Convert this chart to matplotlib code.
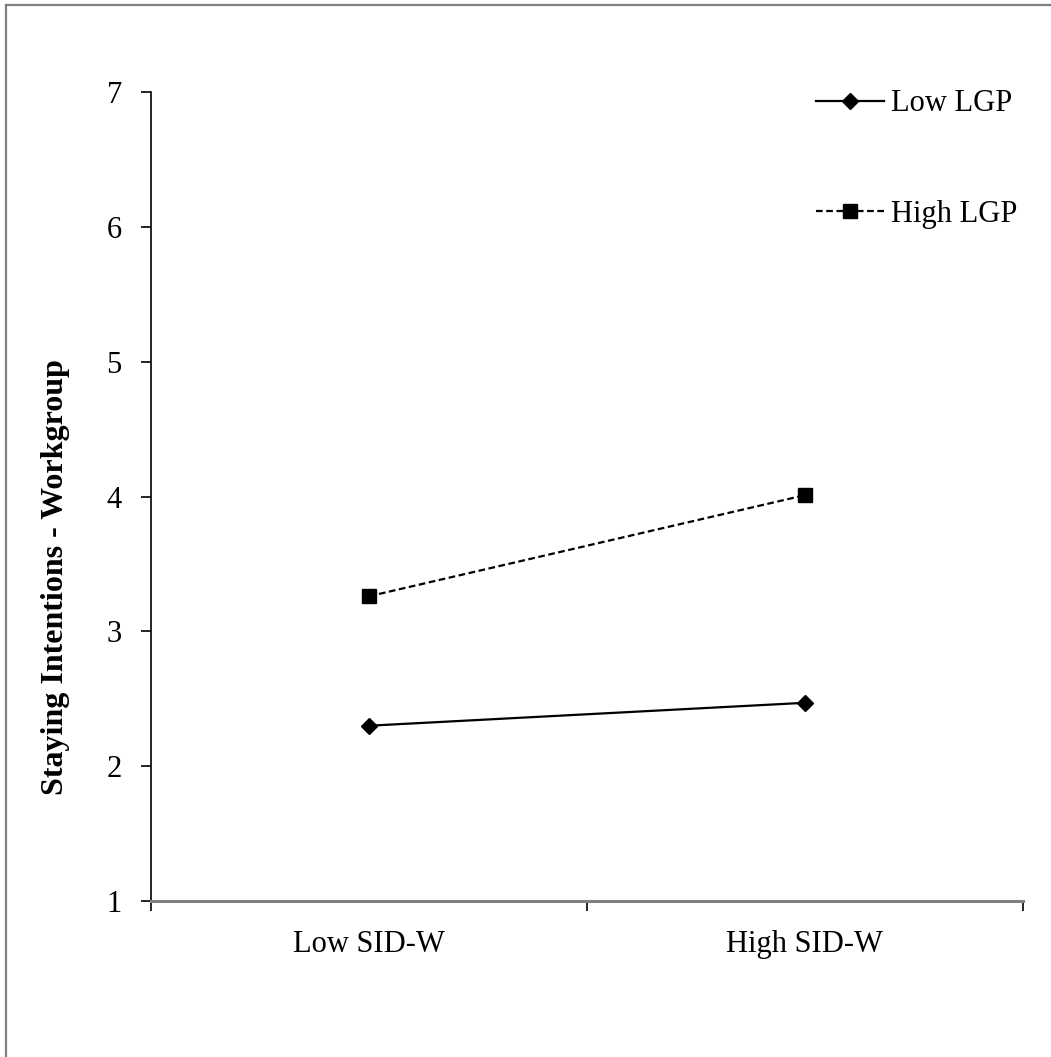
import matplotlib.pyplot as plt
from matplotlib.lines import Line2D

categories = ["Low SID-W", "High SID-W"]
low_lgp = [2.30, 2.47]
high_lgp = [3.26, 4.01]
series_labels = ["Low LGP", "High LGP"]
y_ticks = [1, 2, 3, 4, 5, 6, 7]

plt.rcParams["font.family"] = ["Liberation Serif", "DejaVu Serif"]

W, H = 1051, 1057
fig = plt.figure(figsize=(W / 100, H / 100), dpi=100)
ax = fig.add_axes([151 / W, 1 - 901 / H, 872 / W, 809 / H])

# page border (only top and left are visible in the reference)
fig.add_artist(Line2D([6 / W, 6 / W], [0, 1 - 5 / H], color="#808080", lw=1.6,
                      transform=fig.transFigure))
fig.add_artist(Line2D([6 / W, 1], [1 - 5 / H, 1 - 5 / H], color="#808080", lw=1.6,
                      transform=fig.transFigure))

x = list(range(len(categories)))
ax.plot(x, low_lgp, color="black", lw=1.6, marker="D", markersize=8.5,
        label=series_labels[0])
ax.plot(x, high_lgp, color="black", lw=1.6, ls=(0, (3, 1.6)), marker="s",
        markersize=10.5, label=series_labels[1])

ax.set_xlim(-0.5, 1.5)
ax.set_ylim(1, 7)
ax.set_yticks(y_ticks)
ax.set_xticks([-0.5, 0.5, 1.5], minor=False)
ax.set_xticklabels([])
ax.set_xticks(x, minor=True)
ax.set_xticklabels(categories, minor=True)

for side in ("top", "right"):
    ax.spines[side].set_visible(False)
ax.spines["left"].set_linewidth(1.2)
ax.spines["bottom"].set_color("#808080")
ax.spines["bottom"].set_linewidth(2.2)

ax.tick_params(axis="y", direction="out", length=7, width=1.2, pad=14,
               labelsize=22)
ax.tick_params(axis="x", which="major", direction="out", length=7, width=1.2,
               color="black")
ax.tick_params(axis="x", which="minor", length=0, pad=21, labelsize=22)

ax.set_ylabel("Staying Intentions - Workgroup", fontsize=23, fontweight="bold")
ax.yaxis.set_label_coords(-0.093, 0.40)

ax.legend(loc="upper right", bbox_to_anchor=(1.007, 1.0185), frameon=False,
          fontsize=22, handlelength=2.25, handletextpad=0.2, labelspacing=2.68,
          borderaxespad=0)

fig.savefig("out.png", dpi=100)
